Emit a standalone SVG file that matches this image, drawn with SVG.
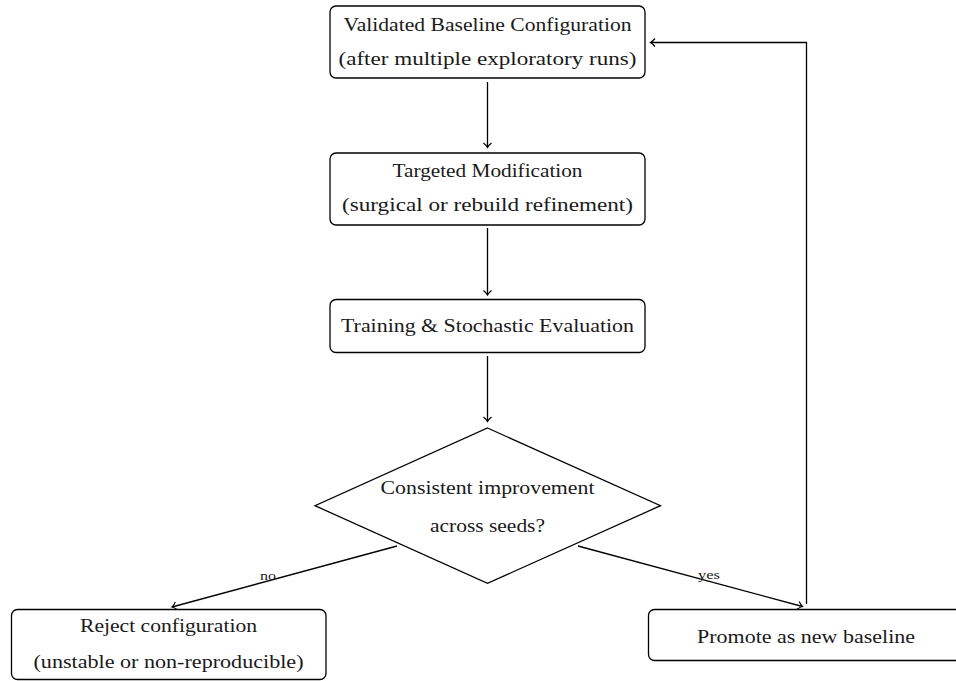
<svg xmlns="http://www.w3.org/2000/svg" width="956" height="681" viewBox="0 0 956 681">
  <style>
    .box { fill: #ffffff; stroke: #000000; stroke-width: 1.3; }
    .txt { font-family: "Liberation Serif", "DejaVu Serif", serif; font-size: 19px; fill: #1a1a1a; text-anchor: middle; }
    .lbl { font-family: "Liberation Serif", "DejaVu Serif", serif; font-size: 13px; fill: #1a1a1a; text-anchor: middle; }
    .edge { fill: none; stroke: #000000; stroke-width: 1.3; marker-end: url(#arrow); }
  </style>
  <defs>
    <marker id="arrow" markerUnits="userSpaceOnUse" viewBox="-6 -5 8 10" refX="0" refY="0" markerWidth="8" markerHeight="10" orient="auto">
      <path d="M-4.5,-4 Q-2,-1 0,0 Q-2,1 -4.5,4" fill="none" stroke="#000000" stroke-width="1.2"/>
    </marker>
  </defs>

  <rect width="956" height="681" fill="#ffffff"/>

  <!-- connectors -->
  <g id="connectors">
    <line class="edge" x1="487.5" y1="82" x2="487.5" y2="147.5"/>
    <line class="edge" x1="487.5" y1="228" x2="487.5" y2="295"/>
    <line class="edge" x1="487.5" y1="356" x2="487.5" y2="421.5"/>
    <line class="edge" x1="397" y1="546" x2="172" y2="607"/>
    <line class="edge" x1="578" y1="546" x2="802.5" y2="606.5"/>
    <polyline class="edge" points="806.5,604 806.5,42.5 650.5,42.5"/>
    <text class="lbl" x="268" y="579.5" textLength="16" lengthAdjust="spacingAndGlyphs">no</text>
    <text class="lbl" x="709" y="578.5" textLength="22" lengthAdjust="spacingAndGlyphs">yes</text>
  </g>

  <!-- baseline -->
  <g id="baseline">
    <rect class="box" x="330" y="6" width="315" height="72" rx="6"/>
    <text class="txt" x="487.5" y="31" textLength="288" lengthAdjust="spacingAndGlyphs">Validated Baseline Configuration</text>
    <text class="txt" x="487.5" y="65" textLength="298" lengthAdjust="spacingAndGlyphs">(after multiple exploratory runs)</text>
  </g>

  <!-- modification -->
  <g id="modification">
    <rect class="box" x="330" y="153" width="315" height="72" rx="6"/>
    <text class="txt" x="487.5" y="177" textLength="190" lengthAdjust="spacingAndGlyphs">Targeted Modification</text>
    <text class="txt" x="487.5" y="211" textLength="291" lengthAdjust="spacingAndGlyphs">(surgical or rebuild refinement)</text>
  </g>

  <!-- evaluation -->
  <g id="evaluation">
    <rect class="box" x="330" y="299.5" width="315" height="53" rx="6"/>
    <text class="txt" x="487.5" y="331.5" textLength="293" lengthAdjust="spacingAndGlyphs">Training &amp; Stochastic Evaluation</text>
  </g>

  <!-- decision -->
  <g id="decision">
    <polygon class="box" points="487.5,428 660.5,505.7 487.5,583.3 315,505.7"/>
    <text class="txt" x="487.5" y="494" textLength="214" lengthAdjust="spacingAndGlyphs">Consistent improvement</text>
    <text class="txt" x="487.5" y="531.5" textLength="115" lengthAdjust="spacingAndGlyphs">across seeds?</text>
  </g>

  <!-- reject -->
  <g id="reject">
    <rect class="box" x="11.5" y="609.5" width="314.5" height="70" rx="6"/>
    <text class="txt" x="168.5" y="632" textLength="177" lengthAdjust="spacingAndGlyphs">Reject configuration</text>
    <text class="txt" x="168.5" y="668" textLength="270" lengthAdjust="spacingAndGlyphs">(unstable or non-reproducible)</text>
  </g>

  <!-- promote -->
  <g id="promote">
    <rect class="box" x="648.5" y="609.5" width="314" height="51" rx="6"/>
    <text class="txt" x="806" y="642.5" textLength="218" lengthAdjust="spacingAndGlyphs">Promote as new baseline</text>
  </g>
</svg>
